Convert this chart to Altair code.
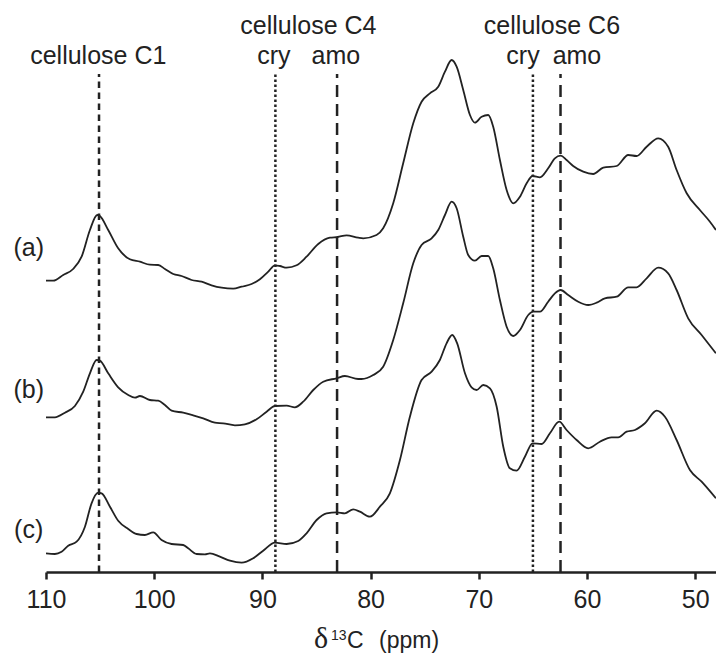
import altair as alt
import pandas as pd

# ---------------- data ----------------
tick_values = [110, 100, 90, 80, 70, 60, 50]

a_ppm = [110.0, 109.33, 108.41, 107.49, 106.71, 105.94, 105.27, 105.02, 104.25, 103.33, 102.25, 101.32,
         100.40, 99.63, 99.01, 98.24, 97.47, 96.54, 95.62, 94.70, 93.77, 92.70, 91.92, 91.00, 90.23, 89.46,
         88.84, 88.38, 87.76, 86.84, 85.92, 84.84, 83.76, 83.05, 82.22, 81.15, 80.68, 79.45, 78.84, 77.91,
         76.99, 76.06, 75.29, 74.52, 73.75, 73.13, 72.51, 72.05, 71.44, 70.82, 70.36, 69.74, 69.13, 68.67,
         68.05, 67.43, 66.82, 66.20, 65.58, 65.03, 64.35, 63.59, 62.97, 62.44, 61.89, 61.28, 60.35, 59.43,
         58.50, 57.26, 56.19, 55.42, 54.49, 53.42, 52.50, 51.72, 50.79, 49.57, 48.64, 48.09]
a_int = [291.3, 291.3, 297.0, 303.0, 315.3, 342.0, 357.0, 356.0, 342.0, 323.7, 312.7, 310.3, 307.3, 307.0,
         303.0, 298.0, 296.0, 292.0, 290.3, 286.7, 284.3, 283.3, 285.3, 288.0, 292.7, 300.3, 306.7, 306.0,
         304.3, 306.7, 315.3, 328.0, 334.3, 335.0, 336.7, 334.3, 333.7, 337.0, 343.7, 368.7, 408.7, 448.7,
         470.3, 478.7, 485.3, 500.3, 512.0, 505.3, 482.0, 457.0, 449.3, 455.3, 457.0, 445.3, 412.0, 382.0,
         368.7, 375.3, 388.7, 396.0, 394.7, 403.7, 413.7, 416.3, 412.0, 406.0, 400.3, 398.0, 404.3, 406.0,
         417.0, 416.0, 425.3, 433.7, 425.3, 402.0, 378.7, 362.0, 350.3, 342.0]

b_ppm = [110.0, 109.18, 108.25, 107.33, 106.56, 105.94, 105.32, 105.02, 104.25, 103.33, 102.40, 101.78,
         101.32, 100.40, 99.63, 99.01, 98.39, 97.32, 96.40, 95.47, 94.39, 93.62, 92.54, 91.62, 90.54, 89.61,
         88.84, 87.76, 87.00, 86.23, 85.30, 84.38, 83.14, 82.38, 81.15, 80.83, 79.76, 78.84, 77.91, 76.99,
         76.06, 75.29, 74.36, 73.75, 73.13, 72.51, 72.05, 71.44, 70.98, 70.36, 69.74, 69.13, 68.67, 68.05,
         67.43, 66.82, 66.20, 65.43, 64.97, 64.35, 63.59, 62.97, 62.44, 61.74, 60.81, 59.89, 59.11, 58.35,
         57.26, 56.19, 55.42, 54.49, 53.42, 52.50, 51.72, 50.65, 49.41, 48.09]
b_int = [154.7, 154.7, 159.3, 166.0, 180.3, 198.7, 212.0, 211.3, 198.7, 184.7, 177.0, 174.3, 176.0, 172.0,
         171.3, 167.0, 161.3, 159.3, 156.7, 153.7, 149.3, 148.7, 146.7, 147.7, 152.7, 160.3, 166.0, 166.3,
         164.7, 170.3, 182.0, 190.3, 193.7, 196.0, 193.0, 193.0, 197.0, 205.3, 232.0, 268.7, 308.7, 327.0,
         333.7, 342.0, 357.0, 370.3, 363.7, 335.3, 317.0, 311.3, 316.0, 316.0, 303.7, 272.0, 245.3, 236.0,
         242.0, 257.0, 260.3, 260.3, 270.3, 278.7, 282.0, 277.0, 270.3, 267.0, 269.3, 273.7, 275.3, 284.7,
         284.7, 293.7, 304.3, 298.7, 282.0, 253.7, 237.0, 218.7]

c_ppm = [110.0, 109.18, 108.56, 107.95, 107.17, 106.40, 105.79, 105.18, 104.86, 104.09, 103.33, 102.40,
         101.63, 100.86, 100.09, 99.32, 98.39, 97.32, 96.86, 96.08, 95.31, 94.85, 93.93, 93.00, 91.92, 90.85,
         89.93, 88.84, 87.76, 86.69, 85.92, 84.99, 84.07, 83.14, 82.38, 81.61, 80.99, 80.06, 79.14, 78.22,
         77.29, 76.37, 75.29, 74.36, 73.60, 72.98, 72.46, 72.00, 71.28, 70.67, 70.20, 69.59, 68.97, 68.35,
         67.74, 67.13, 66.51, 65.74, 65.03, 64.20, 63.43, 62.57, 61.89, 60.96, 59.89, 58.81, 57.73, 57.12,
         56.34, 55.57, 54.65, 53.57, 52.80, 51.72, 50.49, 49.41, 48.09]
c_int = [18.7, 18.0, 20.3, 26.3, 30.3, 45.3, 68.7, 79.3, 78.7, 65.3, 51.3, 43.0, 38.0, 37.0, 39.7, 32.0,
         28.0, 27.0, 23.7, 18.0, 17.7, 18.7, 15.3, 11.3, 9.3, 13.7, 21.3, 29.3, 28.0, 31.0, 38.7, 52.0, 58.7,
         59.7, 58.7, 62.7, 60.3, 55.3, 65.3, 78.7, 112.0, 155.3, 192.0, 200.3, 212.0, 228.7, 237.0, 228.7,
         198.7, 184.7, 182.0, 187.0, 183.7, 165.3, 125.3, 103.7, 101.3, 115.3, 128.7, 128.0, 138.7, 150.3,
         142.0, 132.0, 123.7, 130.3, 134.7, 134.7, 140.3, 142.0, 148.7, 161.3, 155.3, 132.0, 102.0, 90.3, 73.7]

sample_names = ["(a)", "(b)", "(c)"]
sample_label_ppm = [111.6, 111.6, 111.6]
sample_label_y = [324, 182, 42]

rule_ppm = [105.1, 88.8, 83.1, 65.0, 62.45]
rule_kind = ["c1", "cry", "amo", "cry", "amo"]

label_text = ["cellulose C1", "cellulose C4", "cry", "amo", "cellulose C6", "cry", "amo"]
label_ppm = [105.17, 85.75, 88.94, 83.21, 63.24, 65.92, 60.93]
label_y = [508, 538, 508, 508, 538, 508, 508]

# ---------------- build tables ----------------
traces = pd.concat([
    pd.DataFrame({"ppm": a_ppm, "intensity": a_int, "sample": "a"}),
    pd.DataFrame({"ppm": b_ppm, "intensity": b_int, "sample": "b"}),
    pd.DataFrame({"ppm": c_ppm, "intensity": c_int, "sample": "c"}),
], ignore_index=True)
rules = pd.DataFrame({"ppm": rule_ppm, "kind": rule_kind})
labels = pd.DataFrame({"text": label_text, "ppm": label_ppm, "y": label_y})
samples = pd.DataFrame({"text": sample_names, "ppm": sample_label_ppm, "y": sample_label_y})

INK = "#222222"
FONT = "Liberation Sans"
x_scale = alt.Scale(domain=[110, 48.08], nice=False, zero=False)
y_scale = alt.Scale(domain=[0, 572], nice=False, zero=False)

x_axis = alt.Axis(values=tick_values, title=None, grid=False, labelFont=FONT, labelFontSize=25,
                  labelColor=INK, labelPadding=8, tickSize=7, tickWidth=2.5, tickColor=INK,
                  domainWidth=2.5, domainColor=INK, labelFlush=False, labelOverlap=False)

lines = alt.Chart(traces).mark_line(color=INK, strokeWidth=1.8, interpolate="monotone").encode(
    x=alt.X("ppm:Q", scale=x_scale, axis=x_axis),
    y=alt.Y("intensity:Q", scale=y_scale, axis=None),
    detail="sample:N",
    order=alt.Order("ppm:Q", sort="descending"),
)

def rule_layer(kind, dash, width):
    return alt.Chart(rules).transform_filter(alt.datum.kind == kind).mark_rule(
        color=INK, strokeWidth=width, strokeDash=dash).encode(
        x=alt.X("ppm:Q", scale=x_scale),
        y=alt.datum(0, scale=y_scale, axis=None),
        y2=alt.datum(498),
    )

r_c1 = rule_layer("c1", [6.5, 4.5], 2.5)
r_cry = rule_layer("cry", [2.5, 2.5], 2.5)
r_amo = rule_layer("amo", [12, 7], 2.5)

top_text = alt.Chart(labels).mark_text(font=FONT, fontSize=25, color=INK, align="center",
                                       baseline="alphabetic").encode(
    x=alt.X("ppm:Q", scale=x_scale),
    y=alt.Y("y:Q", scale=y_scale, axis=None), text="text:N")

sample_text = alt.Chart(samples).mark_text(font=FONT, fontSize=25, color=INK, align="center",
                                           baseline="middle").encode(
    x=alt.X("ppm:Q", scale=x_scale),
    y=alt.Y("y:Q", scale=y_scale, axis=None), text="text:N")

def piece(txt, x, y, size, font=FONT):
    return alt.Chart(pd.DataFrame({"t": [txt]})).mark_text(
        font=font, fontSize=size, color=INK, align="left", baseline="alphabetic").encode(
        text="t:N", x=alt.value(x), y=alt.value(y))

t_delta = piece("δ", 268, 648, 30, "Liberation Serif")
t_13 = piece("13", 285, 640, 14)
t_c = piece("C", 301, 648, 23)
t_ppm = piece("(ppm)", 333, 648, 23)

chart = alt.layer(lines, r_c1, r_cry, r_amo, top_text, sample_text, t_delta, t_13, t_c, t_ppm).properties(
    width=670, height=572,
    background="white",
    autosize=alt.AutoSizeParams(type="none"),
    padding={"left": 46, "right": 0, "top": 0, "bottom": 81},
).configure_view(stroke="transparent", strokeWidth=0).configure_axis(
    grid=False
).configure_axisY(domain=False, ticks=False, labels=False, grid=False)

chart.save("out.html", embed_options={"renderer": "svg", "actions": False})
